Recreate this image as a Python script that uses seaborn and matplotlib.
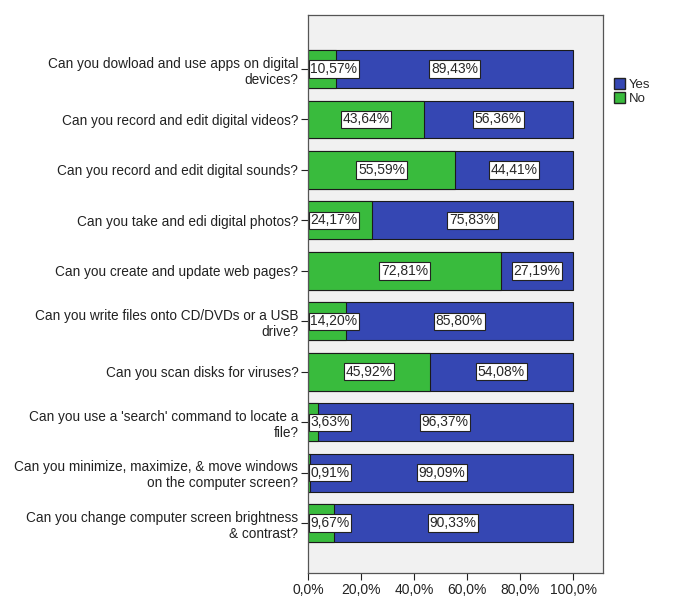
import pandas as pd
import numpy as np
import matplotlib
matplotlib.use("Agg")
import matplotlib.pyplot as plt
import seaborn as sns
from matplotlib.patches import Patch

# Chart data
questions = [
    "Can you dowload and use apps on digital\ndevices?",
    "Can you record and edit digital videos?",
    "Can you record and edit digital sounds?",
    "Can you take and edi digital photos?",
    "Can you create and update web pages?",
    "Can you write files onto CD/DVDs or a USB\ndrive?",
    "Can you scan disks for viruses?",
    "Can you use a 'search' command to locate a\nfile?",
    "Can you minimize, maximize, & move windows\non the computer screen?",
    "Can you change computer screen brightness\n& contrast?",
]
yes_pct = [89.43, 56.36, 44.41, 75.83, 27.19, 85.80, 54.08, 96.37, 99.09, 90.33]
no_pct = [10.57, 43.64, 55.59, 24.17, 72.81, 14.20, 45.92, 3.63, 0.91, 9.67]
x_ticks = [0, 20, 40, 60, 80, 100]
x_tick_labels = ["0,0%", "20,0%", "40,0%", "60,0%", "80,0%", "100,0%"]

blue = "#3547b3"
green = "#39bb3d"

df = pd.DataFrame({"Question": questions, "Yes": yes_pct, "No": no_pct})
df["Total"] = df["Yes"] + df["No"]

sns.set_style("white")
plt.rcParams["font.family"] = ["Liberation Sans", "DejaVu Sans"]

fig = plt.figure(figsize=(6.94, 6.02), dpi=100)
ax = fig.add_axes([0.4438, 0.048, 0.425, 0.927])
ax.set_facecolor("#f1f1f1")

# stacked: full bar in blue (Yes), green (No) drawn over it from 0
sns.barplot(data=df, x="Total", y="Question", color=blue, width=0.75,
            edgecolor="#1a1a1a", linewidth=0.8, ax=ax, saturation=1)
sns.barplot(data=df, x="No", y="Question", color=green, width=0.75,
            edgecolor="#1a1a1a", linewidth=0.8, ax=ax, saturation=1)

box = dict(boxstyle="square,pad=0.12", fc="white", ec="#222222", lw=0.8)
for i, (y, n) in enumerate(zip(df["Yes"], df["No"])):
    lab_n = f"{n:.2f}%".replace(".", ",")
    lab_y = f"{y:.2f}%".replace(".", ",")
    if n < 30:
        ax.text(0.9, i, lab_n, ha="left", va="center", fontsize=10, bbox=box)
    else:
        ax.text(n / 2, i, lab_n, ha="center", va="center", fontsize=10, bbox=box)
    ax.text(n + y / 2, i, lab_y, ha="center", va="center", fontsize=10, bbox=box)

ax.set_xlim(0, 111.3)
ax.set_ylim(9.99, -1.07)
ax.set_xticks(x_ticks)
ax.set_xticklabels(x_tick_labels, fontsize=10, color="#222222")
ax.set_yticklabels(questions, fontsize=9.8, linespacing=1.2, color="#222222")
ax.set_xlabel("")
ax.set_ylabel("")
ax.tick_params(axis="both", which="both", direction="out", length=5,
               width=0.8, color="#222222", left=True, bottom=True, pad=2)
for s in ax.spines.values():
    s.set_color("#555555")
    s.set_linewidth(0.9)

handles = [Patch(facecolor=blue, edgecolor="#222222", label="Yes"),
           Patch(facecolor=green, edgecolor="#222222", label="No")]
fig.legend(handles=handles, loc="upper left", bbox_to_anchor=(0.872, 0.885),
           frameon=False, fontsize=9.5, handlelength=0.8, handleheight=0.8,
           handletextpad=0.3, labelspacing=0.1, borderpad=0.2)

fig.savefig("out.png", dpi=100, facecolor="white")
